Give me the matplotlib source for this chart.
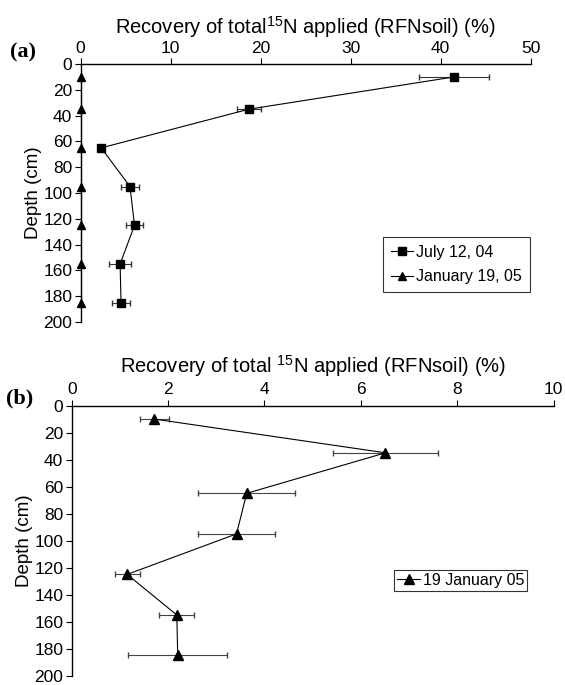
import matplotlib
matplotlib.use('Agg')
import matplotlib.pyplot as plt
from matplotlib.lines import Line2D

plt.rcParams['font.family'] = ['Liberation Sans', 'DejaVu Sans']
plt.rcParams['mathtext.fontset'] = 'custom'
plt.rcParams['mathtext.rm'] = 'Liberation Sans'

# depth (cm)
depth = [10, 35, 65, 95, 125, 155, 185]

# panel (a): recovery (%)
july = [41.5, 18.7, 2.3, 5.5, 6.0, 4.4, 4.5]
july_err = [3.9, 1.3, 0.3, 1.0, 0.95, 1.2, 1.0]
jan_a = [0, 0, 0, 0, 0, 0, 0]

# panel (b): recovery (%)
jan_b = [1.71, 6.51, 3.63, 3.42, 1.15, 2.18, 2.20]
jan_b_err = [0.3, 1.08, 1.0, 0.8, 0.26, 0.36, 1.03]

yticks = [0, 20, 40, 60, 80, 100, 120, 140, 160, 180, 200]

fig = plt.figure(figsize=(5.65, 6.85), dpi=100)
ax1 = fig.add_axes([0.1425, 0.5299, 0.7965, 0.3766])
ax2 = fig.add_axes([0.1269, 0.0135, 0.8531, 0.3945])


def style(ax, xmax, xstep):
    ax.set_xlim(0, xmax)
    ax.set_ylim(200, 0)
    ax.set_xticks(range(0, xmax + 1, xstep))
    ax.set_yticks(yticks)
    ax.xaxis.tick_top()
    ax.xaxis.set_label_position('top')
    ax.spines['right'].set_visible(False)
    ax.spines['bottom'].set_visible(False)
    for s in ['left', 'top']:
        ax.spines[s].set_linewidth(1.0)
    ax.tick_params(axis='both', labelsize=12.5, length=4, width=0.8, pad=2)
    ax.set_ylabel('Depth (cm)', fontsize=13.5, labelpad=1)


# (a)
ax1.errorbar(july, depth, xerr=july_err, color='black', marker='s', ms=5.5,
             lw=0.8, ecolor='#333333', elinewidth=0.8, capsize=2.5,
             clip_on=False)
ax1.plot(jan_a, depth, color='black', marker='^', ms=6, lw=0.8,
         clip_on=False)
style(ax1, 50, 10)
ax1.set_xlabel('Recovery of total$^{\\mathregular{15}}$N applied (RFNsoil) (%)',
               fontsize=14.5, labelpad=5)
h1 = [Line2D([], [], color='black', lw=0.8, marker='s', ms=5.5),
      Line2D([], [], color='black', lw=0.8, marker='^', ms=6)]
leg1 = ax1.legend(h1, ['July 12, 04', 'January 19, 05'], loc='upper left',
                  bbox_to_anchor=(0.672, 0.33), fontsize=11.5,
                  frameon=True, fancybox=False, edgecolor='black',
                  handlelength=1.4, handletextpad=0.2, borderpad=0.5,
                  labelspacing=0.6, borderaxespad=0)
leg1.get_frame().set_linewidth(0.8)

# (b)
ax2.errorbar(jan_b, depth, xerr=jan_b_err, color='black', marker='^', ms=7,
             lw=0.8, ecolor='#444444', elinewidth=0.8, capsize=2.5)
style(ax2, 10, 2)
ax2.set_xlabel('Recovery of total $^{\\mathregular{15}}$N applied (RFNsoil) (%)',
               fontsize=14.5, labelpad=7)
h2 = [Line2D([], [], color='black', lw=0.8, marker='^', ms=7)]
leg2 = ax2.legend(h2, ['19 January 05'], loc='upper left',
                  bbox_to_anchor=(0.669, 0.393), fontsize=11.5,
                  frameon=True, fancybox=False, edgecolor='black',
                  handlelength=1.4, handletextpad=0.2, borderpad=0.2,
                  borderaxespad=0)
leg2.get_frame().set_linewidth(0.8)

fig.text(0.04, 0.924, '(a)', fontsize=16, fontweight='bold',
         family='Liberation Serif', ha='center', va='center')
fig.text(0.034, 0.419, '(b)', fontsize=16, fontweight='bold',
         family='Liberation Serif', ha='center', va='center')

fig.savefig('out.png', dpi=100)
